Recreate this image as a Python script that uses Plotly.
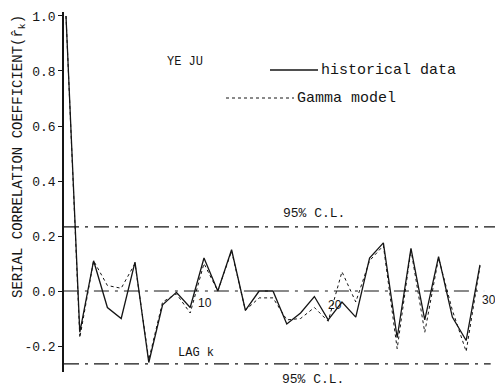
import plotly.graph_objects as go

lags = list(range(0, 31))
historical = [1.0, -0.15, 0.11, -0.06, -0.10, 0.105, -0.26, -0.05, -0.005, -0.06,
              0.12, 0.0, 0.15, -0.07, 0.0, 0.0, -0.12, -0.08, -0.02, -0.105,
              -0.04, -0.095, 0.12, 0.175, -0.17, 0.155, -0.105, 0.125, -0.095, -0.18, 0.095]
gamma_model = [1.0, -0.17, 0.11, 0.02, 0.01, 0.10, -0.25, -0.04, -0.01, -0.08,
               0.10, 0.0, 0.145, -0.07, -0.025, -0.025, -0.105, -0.10, -0.06, -0.11,
               0.07, -0.04, 0.11, 0.165, -0.21, 0.15, -0.15, 0.12, -0.07, -0.22, 0.09]
ytick_vals = [-0.2, 0.0, 0.2, 0.4, 0.6, 0.8, 1.0]
ytick_text = ["-0.2", "0.0", "0.2", "0.4", "0.6", "0.8", "1.0"]
xtick_vals = [10, 20, 30]
cl_upper = 0.233
cl_lower = -0.265

FONT = "Courier New, Liberation Mono, DejaVu Sans Mono, monospace"
INK = "#151515"

fig = go.Figure()
fig.add_trace(go.Scatter(x=lags, y=gamma_model, mode="lines",
                         line=dict(color=INK, width=1, dash="dot"), name="Gamma model"))
fig.add_trace(go.Scatter(x=lags, y=historical, mode="lines",
                         line=dict(color=INK, width=1.3), name="historical data"))

shapes = [
    dict(type="line", xref="paper", yref="y", x0=0, x1=1, y0=cl_upper, y1=cl_upper,
         line=dict(color=INK, width=1.2, dash="longdashdot")),
    dict(type="line", xref="paper", yref="y", x0=0, x1=0.99, y0=cl_lower, y1=cl_lower,
         line=dict(color=INK, width=1.2, dash="longdashdot")),
    dict(type="line", xref="x", yref="y", x0=-0.15, x1=30.3, y0=0, y1=0,
         line=dict(color=INK, width=1, dash="longdashdot")),
    # legend samples
    dict(type="line", xref="paper", yref="paper", x0=(270-64)/431, x1=(318-64)/431,
         y0=(372-70)/360, y1=(372-70)/360, line=dict(color=INK, width=1.3)),
    dict(type="line", xref="paper", yref="paper", x0=(226-64)/431, x1=(294-64)/431,
         y0=(372-98)/360, y1=(372-98)/360, line=dict(color=INK, width=1, dash="dot")),
]

def px(xp):
    return (xp - 64) / 431

def py(yp):
    return (372 - yp) / 360

annotations = [
    dict(text="SERIAL CORRELATION COEFFICIENT(r̂<sub>k</sub>)", xref="paper", yref="paper",
         x=px(19), y=py(157), textangle=-90, showarrow=False,
         xanchor="center", yanchor="middle", font=dict(family=FONT, size=14, color=INK)),
    dict(text="YE JU", xref="paper", yref="paper", x=px(185), y=py(62), showarrow=False,
         xanchor="center", yanchor="middle", font=dict(family=FONT, size=12, color=INK)),
    dict(text="historical data", xref="paper", yref="paper", x=px(319), y=py(70),
         showarrow=False, xanchor="left", yanchor="middle",
         font=dict(family=FONT, size=15, color=INK)),
    dict(text="Gamma model", xref="paper", yref="paper", x=px(295), y=py(98),
         showarrow=False, xanchor="left", yanchor="middle",
         font=dict(family=FONT, size=15, color=INK)),
    dict(text="95% C.L.", xref="paper", yref="y", x=px(314), y=cl_upper, yshift=13,
         showarrow=False, xanchor="center", yanchor="middle",
         font=dict(family=FONT, size=13, color=INK)),
    dict(text="95% C.L.", xref="paper", yref="y", x=px(313), y=cl_lower, yshift=-16,
         showarrow=False, xanchor="center", yanchor="middle",
         font=dict(family=FONT, size=13, color=INK)),
    dict(text="LAG k", xref="paper", yref="paper", x=px(196), y=py(353), showarrow=False,
         xanchor="center", yanchor="middle", font=dict(family=FONT, size=12, color=INK)),
]
label_shift = {10: (1, -12, "center"), 20: (-7, -14, "center"), 30: (0, -9, "left")}
for v in xtick_vals:
    dx, dy, anc = label_shift[v]
    annotations.append(dict(text=str(v), x=v, y=0, xref="x", yref="y", xshift=dx, yshift=dy,
                            showarrow=False, xanchor=anc, yanchor="middle",
                            font=dict(family="Liberation Sans, Arial, sans-serif", size=12,
                                      color=INK)))

fig.update_layout(
    width=495, height=388,
    margin=dict(l=64, r=0, t=12, b=16),
    paper_bgcolor="white", plot_bgcolor="white",
    showlegend=False,
    shapes=shapes, annotations=annotations,
    xaxis=dict(range=[-0.145, 31.09], visible=False),
    yaxis=dict(range=[-0.2945, 1.0145], tickvals=ytick_vals, ticktext=ytick_text,
               showline=True, linecolor=INK, linewidth=1.5, ticks="outside", ticklen=4,
               tickcolor=INK, showgrid=False, zeroline=False,
               tickfont=dict(family=FONT, size=13, color=INK)),
)

fig.write_html("out.html")
